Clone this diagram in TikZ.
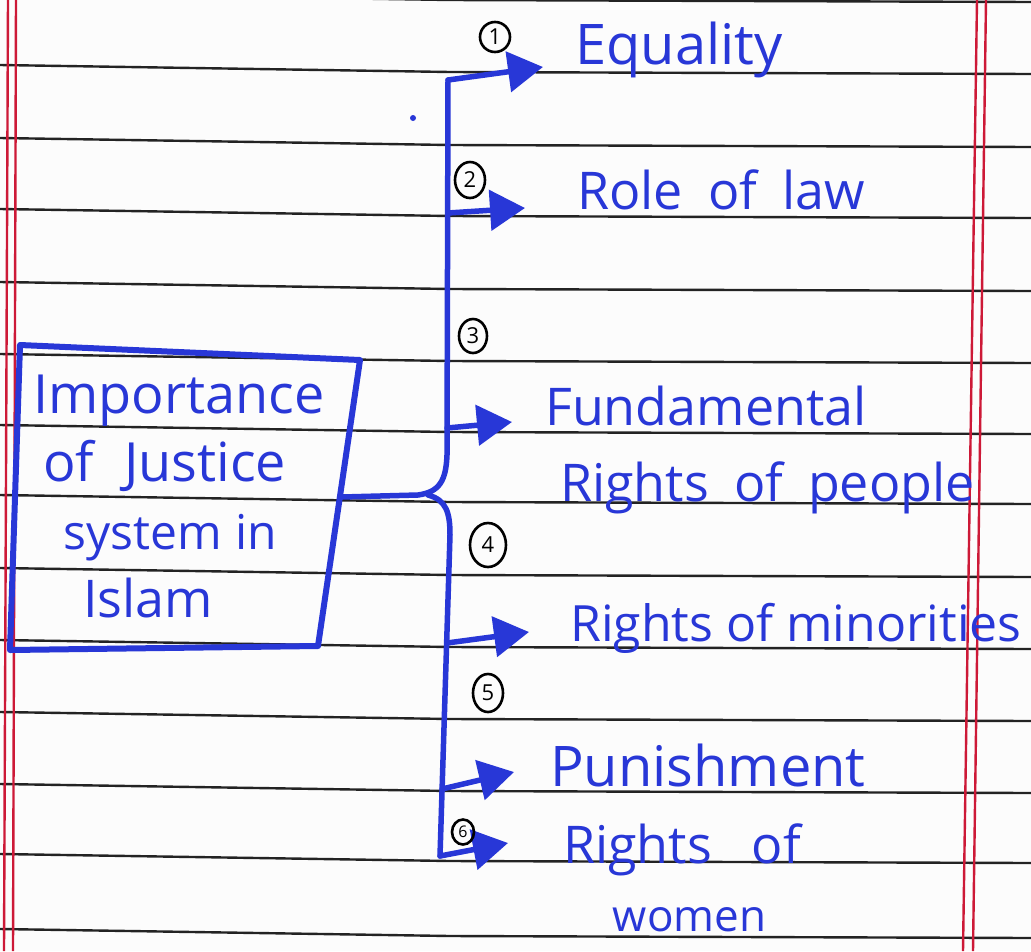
\documentclass[tikz,border=0pt]{standalone}
\usepackage{fontspec}
\setmainfont{Open Sans}
\usetikzlibrary{arrows.meta,shapes.geometric}
\definecolor{ink}{RGB}{40,55,215}
\definecolor{rulecol}{RGB}{35,35,35}
\definecolor{margincol}{RGB}{205,25,55}
\definecolor{paper}{RGB}{252,252,252}
\newcommand{\fs}[1]{\fontsize{#1}{68}\selectfont}
\tikzset{
  pen/.style={draw=ink, line width=5.5pt, line cap=round, line join=round},
  arr/.style={pen, -{Triangle[length=35pt 0 0,width=40pt 0 0]}},
  hwtext/.style={text=ink, anchor=west, inner sep=0pt, font=\fs{52}},
  num/.style={ellipse, draw=black, line width=2.6pt, inner sep=0pt, font=\fontsize{22}{22}\selectfont},
  ruled/.style={draw=rulecol, line width=2.4pt},
  marginline/.style={draw=margincol, line width=2.4pt},
}
\begin{document}
\begin{tikzpicture}[x=1pt,y=-1pt]
\fill[paper] (0,0) rectangle (1031,951);
\useasboundingbox (0,0) rectangle (1031,951);
% ruled paper
\foreach \yy in {1,73,146,217,290,362,433,503,576,648,720,792,862,937}
  \draw[ruled] (0,\yy-8) -- (450,\yy-1) -- (1031,\yy+1);
\draw[marginline] (8,0) -- (4,951);
\draw[marginline] (16,0) -- (13,951);
\draw[marginline] (977,0) -- (963,951);
\draw[marginline] (986,0) -- (973,951);
% topic box
\draw[pen, line width=6pt] (20,345) -- (360,360) -- (318,646) -- (10,650) -- cycle;
\node[hwtext, align=left, font=\fs{52}] (topic) at (33,496)
  {{\fs{54}Importance}\\\hspace*{10pt}{\fs{54}of\hspace{30pt}Justice}\\\hspace*{30pt}{\fs{48}system\hspace{14pt}in}\\\hspace*{50pt}Islam};
\coordinate (boxR) at (342,497);
% branch points and tips
\coordinate (b1) at (448,80);   \coordinate (t1) at (543,67);
\coordinate (b2) at (448,213);  \coordinate (t2) at (525,208);
\coordinate (b3) at (447,428);  \coordinate (t3) at (512,422);
\coordinate (b4) at (447,643);  \coordinate (t4) at (529,632);
\coordinate (b5) at (442,789);  \coordinate (t5) at (514,772);
\coordinate (b6) at (440,856);  \coordinate (t6) at (508,843);
% trunk
\draw[pen] (boxR) -- (418,495) .. controls (440,492) and (446,480) .. (447,455) -- (b1);
\draw[pen] (428,495) .. controls (446,500) and (450,512) .. (450,535) -- (b6);
% arrows
\draw[arr] (b1) -- (t1);
\draw[arr] (b2) -- (t2);
\draw[arr] (b3) -- (t3);
\draw[arr] (b4) -- (t4);
\draw[arr] (b5) -- (t5);
\draw[arr] (b6) -- (t6);
% stray dot
\fill[ink] (413,118) circle (3pt);
% item texts
\node[hwtext, font=\fs{56}] (eq)   at (575,50)  {Equality};
\node[hwtext] (role) at (577,190) {Role\hspace{25pt}of\hspace{25pt}law};
\node[hwtext, align=left] (fund) at (545,450) {Fundamental\\[8pt]\hspace*{15pt}Rights\hspace{25pt}of\hspace{25pt}people};
\node[hwtext, font=\fs{50}] (minr) at (570,628) {Rights of minorities};
\node[hwtext, font=\fs{56}] (pun)  at (550,765) {Punishment};
\node[hwtext, anchor=center, align=center] (wom) at (682,878) {Rights\hspace{40pt}of\\\hspace*{15pt}{\fs{44}women}};
% numbers
\node[num, minimum width=30pt, minimum height=30pt] (n1) at (495,37)  {1};
\node[num, minimum width=30pt, minimum height=36pt] (n2) at (470,180) {2};
\node[num, minimum width=28pt, minimum height=34pt] (n3) at (473,336) {3};
\node[num, minimum width=36pt, minimum height=44pt] (n4) at (488,545) {4};
\node[num, minimum width=30pt, minimum height=38pt] (n5) at (488,693) {5};
\node[num, minimum width=22pt, minimum height=25pt, font=\fontsize{16}{16}\selectfont] (n6) at (463,832) {6};
\end{tikzpicture}
\end{document}
